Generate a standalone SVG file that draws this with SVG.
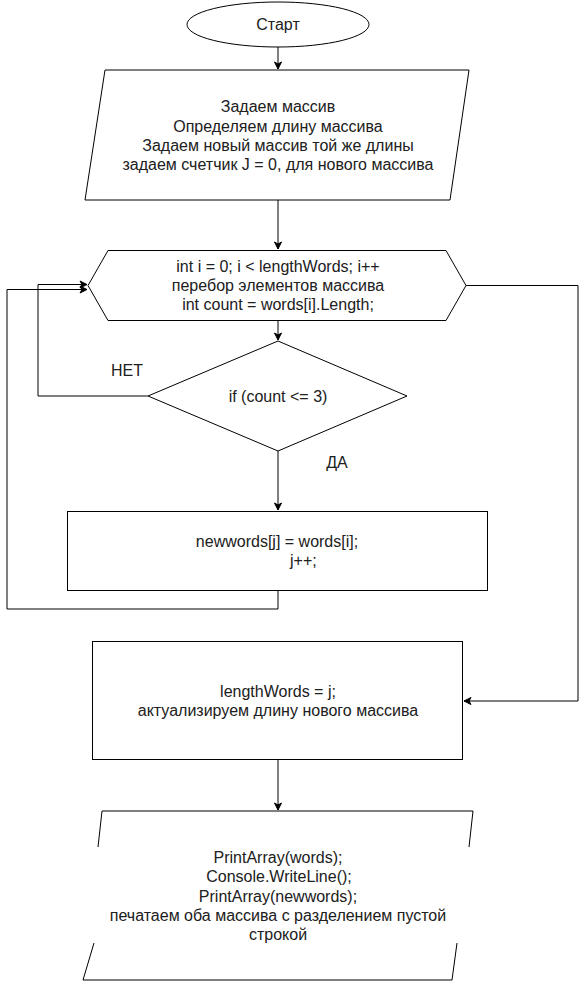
<svg xmlns="http://www.w3.org/2000/svg" width="587" height="981" viewBox="0 0 587 981">
<defs>
<marker id="ah" markerWidth="10" markerHeight="10" refX="8" refY="5" orient="auto" markerUnits="userSpaceOnUse">
<path d="M1,1.5 L8,5 L1,8.5 L3,5 Z" fill="#000" stroke="#000" stroke-width="1"/>
</marker>
<style>
.s{fill:#fff;stroke:#000;stroke-width:1}
.l{fill:none;stroke:#000;stroke-width:1}
.t{font-family:"Liberation Sans",Arial,sans-serif;font-size:16px;fill:#202020;text-anchor:middle}
</style>
</defs>
<rect x="0" y="0" width="587" height="981" fill="#fff"/>
<g id="connectors">
<path class="l" d="M278,47 V69" marker-end="url(#ah)"/>
<path class="l" d="M278,200 V249" marker-end="url(#ah)"/>
<path class="l" d="M278,320 V340" marker-end="url(#ah)"/>
<path class="l" d="M278,451 V510" marker-end="url(#ah)"/>
<path class="l" d="M148,396 H38 V284.5 H87" marker-end="url(#ah)"/>
<path class="l" d="M278,590 V609 H7 V289.5 H87" marker-end="url(#ah)"/>
<path class="l" d="M466,285.5 H578 V701 H464" marker-end="url(#ah)"/>
<path class="l" d="M278,760 V810" marker-end="url(#ah)"/>
</g>
<g id="start">
<ellipse class="s" cx="278" cy="24.5" rx="91" ry="22.5"/>
<text class="t" x="278" y="30">Старт</text>
</g>
<g id="input">
<polygon class="s" points="105,70 469,70 450,200 85,200"/>
<text class="t" x="278" y="112">Задаем массив</text>
<text class="t" x="278" y="131.5">Определяем длину массива</text>
<text class="t" x="278" y="150.5">Задаем новый массив той же длины</text>
<text class="t" x="278" y="169.5">задаем счетчик J = 0, для нового массива</text>
</g>
<g id="loop">
<polygon class="s" points="88,285.5 108,250.5 446,250.5 466,285.5 446,320.5 108,320.5"/>
<text class="t" x="278" y="271.5">int i = 0; i &lt; lengthWords; i++</text>
<text class="t" x="278" y="290.5">перебор элементов массива</text>
<text class="t" x="278" y="309.5">int count = words[i].Length;</text>
</g>
<g id="decision">
<polygon class="s" points="278,341 407,396 278,451 148,396"/>
<text class="t" x="278" y="401.5">if (count &lt;= 3)</text>
</g>
<g id="label-no">
<text class="t" x="127" y="375.5">НЕТ</text>
</g>
<g id="label-yes">
<text class="t" x="337" y="467.5">ДА</text>
</g>
<g id="assign">
<rect class="s" x="67.5" y="511.5" width="420" height="79"/>
<text class="t" x="277" y="546.5">newwords[j] = words[i];</text>
<text class="t" x="290" y="566" style="text-anchor:start">j++;</text>
</g>
<g id="length">
<rect class="s" x="92.5" y="641.5" width="370" height="118"/>
<text class="t" x="278" y="696.5">lengthWords = j;</text>
<text class="t" x="278" y="715.5">актуализируем длину нового массива</text>
</g>
<g id="output">
<path class="l" d="M98,847 L102,811 H473 L469,847"/>
<path class="l" d="M94,943 L83,980 H452 L457,943"/>
<text class="t" x="278" y="863">PrintArray(words);</text>
<text class="t" x="279" y="882">Console.WriteLine();</text>
<text class="t" x="278" y="901.5">PrintArray(newwords);</text>
<text class="t" x="278" y="920.5">печатаем оба массива с разделением пустой</text>
<text class="t" x="278" y="940">строкой</text>
</g>
</svg>
